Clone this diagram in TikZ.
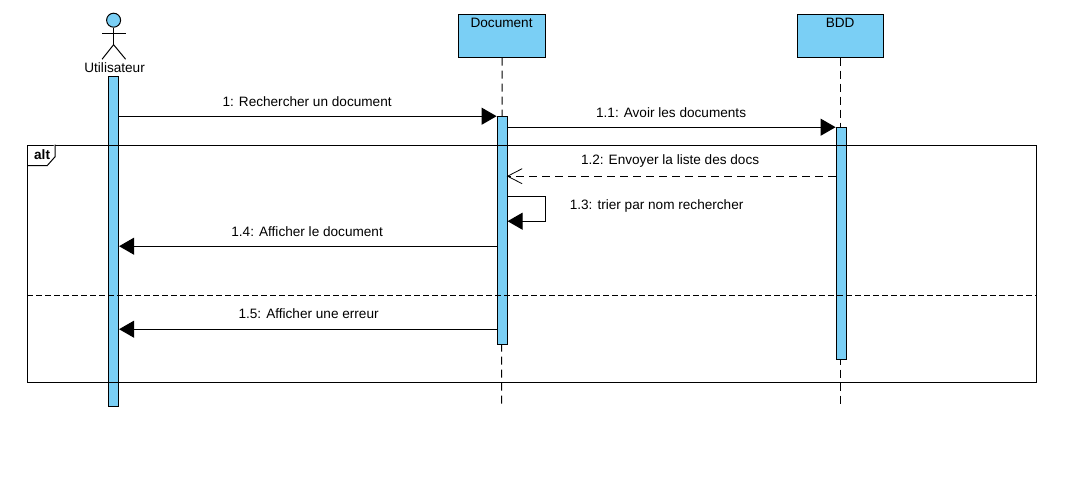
\documentclass[tikz,border=0pt]{standalone}
\usepackage{fontspec}
\setmainfont{Liberation Sans}
\usetikzlibrary{arrows.meta}
\definecolor{umlblue}{RGB}{122,207,245}
\tikzset{
 x=1pt,y=-1pt,
 every node/.style={font=\fontsize{13.6}{15}\selectfont,inner sep=0pt},
 objbox/.style={draw=black,fill=umlblue,line width=1pt,minimum width=87pt,minimum height=43pt,anchor=north west},
 bar/.style={draw=black,fill=umlblue,line width=1pt,minimum width=10pt,anchor=north},
 life/.style={line width=1pt,dash pattern=on 8pt off 5pt},
 msg/.style={line width=1pt,-{Triangle[length=15pt,width=17pt]}},
 ret/.style={line width=1pt,dash pattern=on 8pt off 5pt},
 barb/.style={line width=.8pt},
 lbl/.style={anchor=base},
 stick/.style={line width=1pt},
}
\begin{document}
\begin{tikzpicture}
\useasboundingbox (0.4,0.8) rectangle (1071.4,498.8);
% objects
\node[objbox] (doc) at (458.5,14.5) {};
\node[anchor=base] (doct) at (502,28.5) {Document};
\node[objbox,minimum width=86pt] (bdd) at (797.5,14.5) {};
\node[anchor=base] (bddt) at (840.5,28.5) {BDD};
% lifelines
\coordinate (docend) at (502,408);
\coordinate (bddend) at (841,408);
\draw[life] (doc.south) -- (docend);
\draw[life] (bdd.south) -- (bddend);
% actor
\node[draw=black,fill=umlblue,circle,line width=1pt,minimum size=14pt] (head) at (114,21) {};
\coordinate (neck) at (114,34.5);
\coordinate (armL) at (102.5,34.5);
\coordinate (armR) at (126,34.5);
\coordinate (hip) at (114,45.5);
\coordinate (legL) at (102.5,60);
\coordinate (legR) at (126,60);
\draw[stick] (head.south) -- (hip);
\draw[stick] (armL) -- (armR);
\draw[stick] (legL) -- (hip) -- (legR);
\node[anchor=base] (actor) at (115,73) {Utilisateur};
% activation bars
\node[bar,minimum height=330pt] (barU) at (114,77) {};
\node[bar,minimum height=228pt] (barD) at (502.5,117) {};
\node[bar,minimum height=232pt] (barB) at (841.5,128) {};
% frame
\node[draw=black,line width=1pt,minimum width=1009pt,minimum height=237pt,anchor=north west] (frame) at (27.5,145.5) {};
\coordinate (tagA) at (55.5,145.5);
\coordinate (tagB) at (55.5,157.5);
\coordinate (tagC) at (47.5,166.5);
\coordinate (tagD) at (27.5,166.5);
\draw[line width=1pt,fill=white] (tagA) -- (tagB) -- (tagC) -- (tagD);
\node[anchor=base,font=\fontsize{13.6}{15}\selectfont\bfseries] (alt) at (42.5,160.5) {alt};
\draw[line width=1pt,dash pattern=on 6pt off 3pt] (frame.west |- 0,296) coordinate (sepL) -- (frame.east |- 0,296) coordinate (sepR);
% messages
\coordinate (m1a) at (barU.east |- 0,117);
\coordinate (m1b) at (barD.west |- 0,117);
\draw[msg] (m1a) -- (m1b);
\node[lbl] (l1) at (307.5,107.5) {1: Rechercher un document};
\coordinate (m2a) at (barD.east |- 0,128);
\coordinate (m2b) at (barB.west |- 0,128);
\draw[msg] (m2a) -- (m2b);
\node[lbl] (l2) at (671.5,118.5) {1.1: Avoir les documents};
\coordinate (m3a) at (barB.west |- 0,177);
\coordinate (m3b) at (barD.east |- 0,177);
\coordinate (m3t) at (522.5,169.5);
\coordinate (m3u) at (522.5,184.5);
\draw[ret] (m3a) -- (m3b);
\draw[barb] (m3t) -- (m3b) -- (m3u);
\node[lbl] (l3) at (670.5,165.5) {1.2: Envoyer la liste des docs};
\coordinate (m4a) at (barD.east |- 0,197);
\coordinate (m4c) at (546,197);
\coordinate (m4d) at (546,222);
\coordinate (m4b) at (barD.east |- 0,222);
\draw[msg] (m4a) -- (m4c) -- (m4d) -- (m4b);
\node[lbl] (l4) at (657,210) {1.3: trier par nom rechercher};
\coordinate (m5a) at (barD.west |- 0,247);
\coordinate (m5b) at (barU.east |- 0,247);
\draw[msg] (m5a) -- (m5b);
\node[lbl] (l5) at (307.5,237.5) {1.4: Afficher le document};
\coordinate (m6a) at (barD.west |- 0,330);
\coordinate (m6b) at (barU.east |- 0,330);
\draw[msg] (m6a) -- (m6b);
\node[lbl] (l6) at (309,319.5) {1.5: Afficher une erreur};
\end{tikzpicture}
\end{document}
